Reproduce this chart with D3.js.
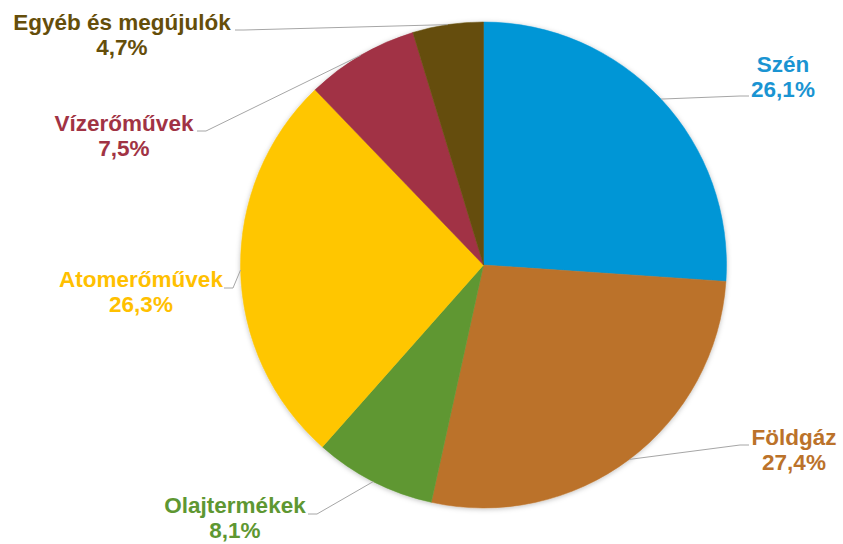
<!DOCTYPE html>
<html>
<head>
<meta charset="utf-8">
<script src="https://cdn.jsdelivr.net/npm/d3@7"></script>
<style>
html,body{margin:0;padding:0;background:#fff;}
svg{display:block;}
</style>
</head>
<body>
<svg id="chart" width="843" height="544"></svg>
<script>
// ---- data ----
const categories = ["Szén", "Földgáz", "Olajtermékek", "Atomerőművek", "Vízerőművek", "Egyéb és megújulók"];
const values = [26.1, 27.4, 8.1, 26.3, 7.5, 4.7];
const valueLabels = ["26,1%", "27,4%", "8,1%", "26,3%", "7,5%", "4,7%"];
const colors = ["#0096D6", "#BB722A", "#5E9732", "#FFC600", "#A13344", "#654E0A"];
const textColors = ["#1A94D2", "#BB722A", "#5E9732", "#FFC000", "#A13344", "#654E0A"];

// ---- layout (label placement) ----
const cx = 483.5, cy = 265, R = 243;
// text center x, first baseline y, leader end x, leader end y, elbow direction
const labelLayout = [
  {tx: 783, ty: 72,  ex: 749, ey: 96,  dir: -1},
  {tx: 794, ty: 445, ex: 749, ey: 445, dir: -1},
  {tx: 235, ty: 513, ex: 308, ey: 514, dir: 1},
  {tx: 141, ty: 287, ex: 224, ey: 288, dir: 1},
  {tx: 124, ty: 131, ex: 197, ey: 131, dir: 1},
  {tx: 122, ty: 30,  ex: 235, ey: 30,  dir: 1}
];

const svg = d3.select("#chart");
const defs = svg.append("defs");
const f = defs.append("filter").attr("id", "shadow").attr("x", "-10%").attr("y", "-10%").attr("width", "120%").attr("height", "120%");
f.append("feDropShadow").attr("dx", 0).attr("dy", 1).attr("stdDeviation", 2.5).attr("flood-color", "#000").attr("flood-opacity", 0.25);

const pie = d3.pie().sort(null).value(d => d)(values);
const arc = d3.arc().innerRadius(0).outerRadius(R);

const g = svg.append("g").attr("transform", `translate(${cx},${cy})`);
g.append("g").attr("filter", "url(#shadow)")
  .selectAll("path").data(pie).join("path")
  .attr("d", arc)
  .attr("fill", (d, i) => colors[i])
  .attr("stroke", (d, i) => colors[i])
  .attr("stroke-width", 0.5);

// leader lines
pie.forEach((d, i) => {
  const L = labelLayout[i];
  const a = (d.startAngle + d.endAngle) / 2;
  const px = cx + R * Math.sin(a), py = cy - R * Math.cos(a);
  const elbowX = L.ex + L.dir * 9;
  svg.append("polyline")
    .attr("points", `${px},${py} ${elbowX},${L.ey} ${L.ex},${L.ey}`)
    .attr("fill", "none")
    .attr("stroke", "#A6A6A6")
    .attr("stroke-width", 1);
});

// labels
pie.forEach((d, i) => {
  const L = labelLayout[i];
  const t = svg.append("text")
    .attr("text-anchor", "middle")
    .attr("font-family", "Liberation Sans, Arial, sans-serif")
    .attr("font-weight", "bold")
    .attr("font-size", 22.5)
    .attr("fill", textColors[i]);
  t.append("tspan").attr("x", L.tx).attr("y", L.ty).text(categories[i]);
  t.append("tspan").attr("x", L.tx).attr("y", L.ty + 25).text(valueLabels[i]);
});
</script>
</body>
</html>
